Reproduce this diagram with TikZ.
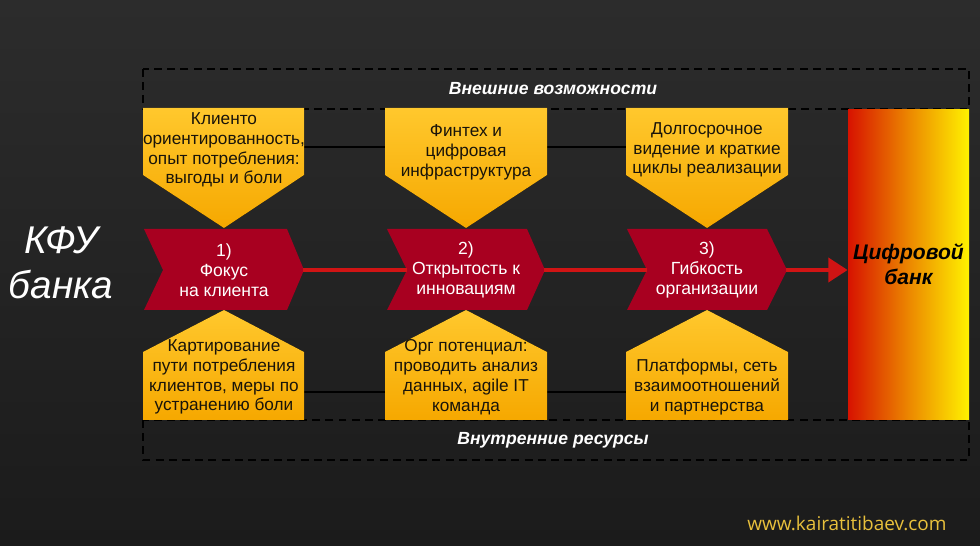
\documentclass[tikz,border=0pt]{standalone}
\usepackage{fontspec}
\setmainfont{Liberation Sans}
\newfontfamily\urlfont{Open Sans}
\usepackage{tikz}
\usetikzlibrary{
        positioning,
        arrows.meta
    }

\definecolor{bgtop}{RGB}{44,44,44}
\definecolor{bgbot}{RGB}{27,27,27}
\definecolor{boxtop}{RGB}{255,200,45}
\definecolor{boxbot}{RGB}{246,168,0}
\definecolor{boxink}{RGB}{25,20,10}
\definecolor{stagered}{RGB}{168,0,32}
\definecolor{flowred}{RGB}{208,20,20}
\definecolor{bankred}{RGB}{215,18,0}
\definecolor{bankorange}{RGB}{236,135,0}
\definecolor{bankyellow}{RGB}{255,242,0}
\definecolor{urlgold}{RGB}{232,192,60}

\begin{document}
\begin{tikzpicture}
[x=0.02cm, y=-0.02cm,
boxtext/.style={align=center, inner sep=0pt, text=boxink, font=\fontsize{9.8}{11.3}\selectfont},
stagetext/.style={align=center, inner sep=0pt, text=white, font=\fontsize{10}{11.3}\selectfont},
sidelabel/.style={align=center, inner sep=0pt, text=white, font=\fontsize{10}{12}\selectfont\bfseries\itshape},
bigtitle/.style={align=center, inner sep=0pt, text=white, font=\fontsize{22}{25.5}\selectfont\itshape},
pentagon/.style={top color=boxtop, bottom color=boxbot},
chevron/.style={fill=stagered},
dashbox/.style={draw=black, line width=0.9pt, dash pattern=on 4.5pt off 3pt},
link/.style={draw=black, line width=0.8pt},
flow/.style={draw=flowred, line width=2.3pt},
]
% background
\fill[top color=bgtop, bottom color=bgbot] (0,0) rectangle (980,546);

% dashed bands
\draw[dashbox] (143,69) rectangle (969,109);
\draw[dashbox] (143,420) rectangle (969,460);

% helper points
\coordinate (extc1) at (224,147);
\coordinate (extc3) at (707,147);
\coordinate (intc1) at (224,392);
\coordinate (intc3) at (707,392);
\coordinate (tip1) at (303,270);
\coordinate (notch2) at (407,270);
\coordinate (tip2) at (544,270);
\coordinate (notch3) at (647,270);
\coordinate (tip3) at (786,270);

\draw[link] (extc1) -- (extc3);
\draw[link] (intc1) -- (intc3);

% target
\node (bank) [minimum width=2.42cm, minimum height=6.22cm, inner sep=0pt,
  left color=bankred, right color=bankyellow, middle color=bankorange,
  align=center, font=\fontsize{12}{14.2}\selectfont\bfseries\itshape, text=black]
  at (908.5,264.5) {Цифровой\\банк};

% upper boxes
\fill[pentagon] (143,108) -- (304,108) -- (304,175) -- (224,228) -- (143,175) -- cycle;
\fill[pentagon] (385,108) -- (547,108) -- (547,175) -- (466,228) -- (385,175) -- cycle;
\fill[pentagon] (626,108) -- (788,108) -- (788,175) -- (707,228) -- (626,175) -- cycle;

% lower boxes
\fill[pentagon] (143,420) -- (304,420) -- (304,352) -- (224,310) -- (143,352) -- cycle;
\fill[pentagon] (385,420) -- (547,420) -- (547,352) -- (466,310) -- (385,352) -- cycle;
\fill[pentagon] (626,420) -- (788,420) -- (788,352) -- (707,310) -- (626,352) -- cycle;

% stages
\fill[chevron] (144,229) -- (287,229) -- (304,270) -- (287,310) -- (144,310) -- (163,270) -- cycle;
\fill[chevron] (387,229) -- (527,229) -- (545,270) -- (527,310) -- (387,310) -- (407,270) -- cycle;
\fill[chevron] (627,229) -- (767,229) -- (787,270) -- (767,310) -- (627,310) -- (647,270) -- cycle;

\draw[flow] (tip1) -- (notch2);
\draw[flow] (tip2) -- (notch3);
\draw[flow, line width=2.6pt, -{Triangle[length=11pt, width=13.5pt]}] (tip3) -- (tip3 -| bank.west);

% texts
\node (kfu) [bigtitle] at (61,263) {КФУ\\банка};
\node (extlabel) [sidelabel] at (553,89) {Внешние возможности};
\node (intlabel) [sidelabel] at (553,440) {Внутренние ресурсы};

\node (ext1) [boxtext] at (224,150) {Клиенто\\ориентированность,\\опыт потребления:\\выгоды и боли};
\node (ext2) [boxtext] at (466,152) {Финтех и\\цифровая\\инфраструктура};
\node (ext3) [boxtext] at (707,150) {Долгосрочное\\видение и краткие\\циклы реализации};

\node (stage1) [stagetext] at (224,270) {1)\\Фокус\\на клиента};
\node (stage2) [stagetext] at (466,270) {2)\\Открытость к\\инновациям};
\node (stage3) [stagetext] at (707,270) {3)\\Гибкость\\организации};

\node (int1) [boxtext] at (224,377) {Картирование\\пути потребления\\клиентов, меры по\\устранению боли};
\node (int2) [boxtext] at (466,377) {Орг потенциал:\\проводить анализ\\данных, agile IT\\команда};
\node (int3) [boxtext] at (707,387) {Платформы, сеть\\взаимоотношений\\и партнерства};

\node (site) [inner sep=0pt, text=urlgold, font=\urlfont\fontsize{10.8}{12}\selectfont] at (847,523) {www.kairatitibaev.com};
\end{tikzpicture}
\end{document}
